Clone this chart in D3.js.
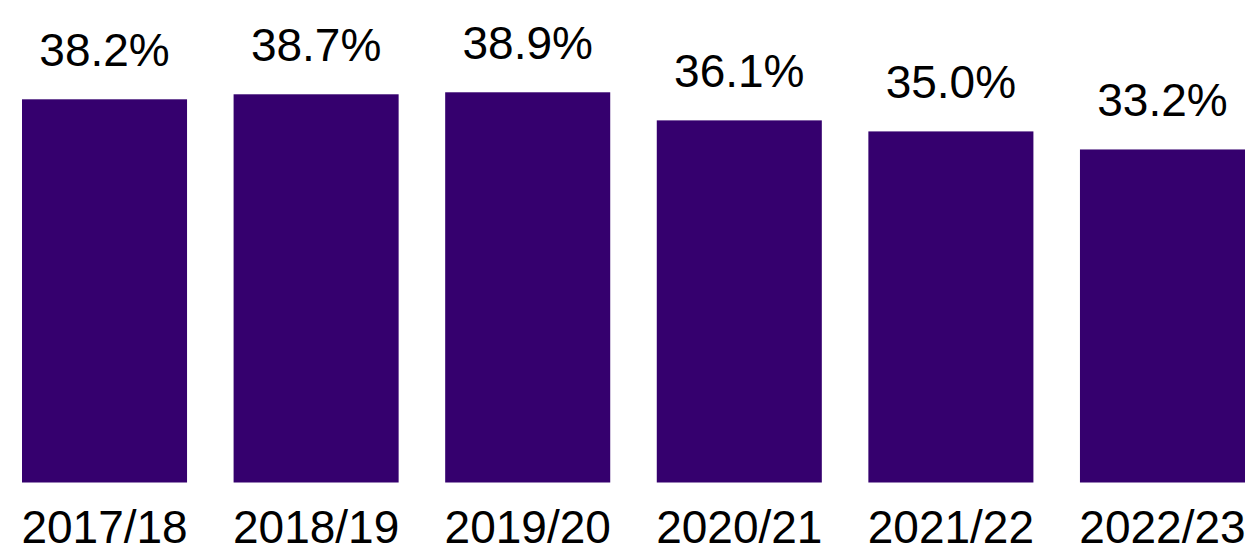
<!DOCTYPE html>
<html>
<head>
<meta charset="utf-8">
<script src="https://cdn.jsdelivr.net/npm/d3@7"></script>
<style>
    body { margin: 0; background: #fff; }
    text { font-family: "Liberation Sans", Arial, sans-serif; fill: #000; }
</style>
</head>
<body>
<svg id="chart"></svg>
<script>
const years = ["2017/18", "2018/19", "2019/20", "2020/21", "2021/22", "2022/23"];
const shares = [38.2, 38.7, 38.9, 36.1, 35.0, 33.2];

const width = 1255, height = 552;
const margin = { left: 22, right: 10, top: 0, bottom: 69.5 };
const drawHeight = height - margin.top - margin.bottom;

const svg = d3.select("#chart").attr("width", width).attr("height", height);

const xScale = d3.scaleBand()
    .domain(years)
    .range([margin.left, width - margin.right])
    .paddingInner(0.22)
    .paddingOuter(0);

const yScale = d3.scaleLinear()
    .domain([0, 48.1])
    .range([margin.top + drawHeight, margin.top]);

const data = years.map((y, i) => ({ year: y, value: shares[i] }));

svg.append("g").selectAll("rect")
    .data(data)
    .enter().append("rect")
    .attr("x", d => xScale(d.year))
    .attr("y", d => yScale(d.value))
    .attr("width", xScale.bandwidth())
    .attr("height", d => yScale(0) - yScale(d.value))
    .attr("fill", "#35006e");

svg.append("g").selectAll("text")
    .data(data)
    .enter().append("text")
    .attr("x", d => xScale(d.year) + xScale.bandwidth() / 2)
    .attr("y", d => yScale(d.value) - 33)
    .attr("text-anchor", "middle")
    .style("font-size", "46px")
    .text(d => d.value.toFixed(1) + "%");

// category axis, drawn without line or ticks
const xAxis = d3.axisBottom(xScale).tickSize(0).tickPadding(0);
const axisG = svg.append("g")
    .attr("transform", `translate(0, ${yScale(0)})`)
    .call(xAxis);
axisG.select(".domain").remove();
axisG.selectAll("text")
    .attr("dy", null)
    .attr("y", 60.5)
    .style("font-family", "'Liberation Sans', Arial, sans-serif")
    .style("font-size", "46px")
    .attr("fill", "#000");
</script>
</body>
</html>
